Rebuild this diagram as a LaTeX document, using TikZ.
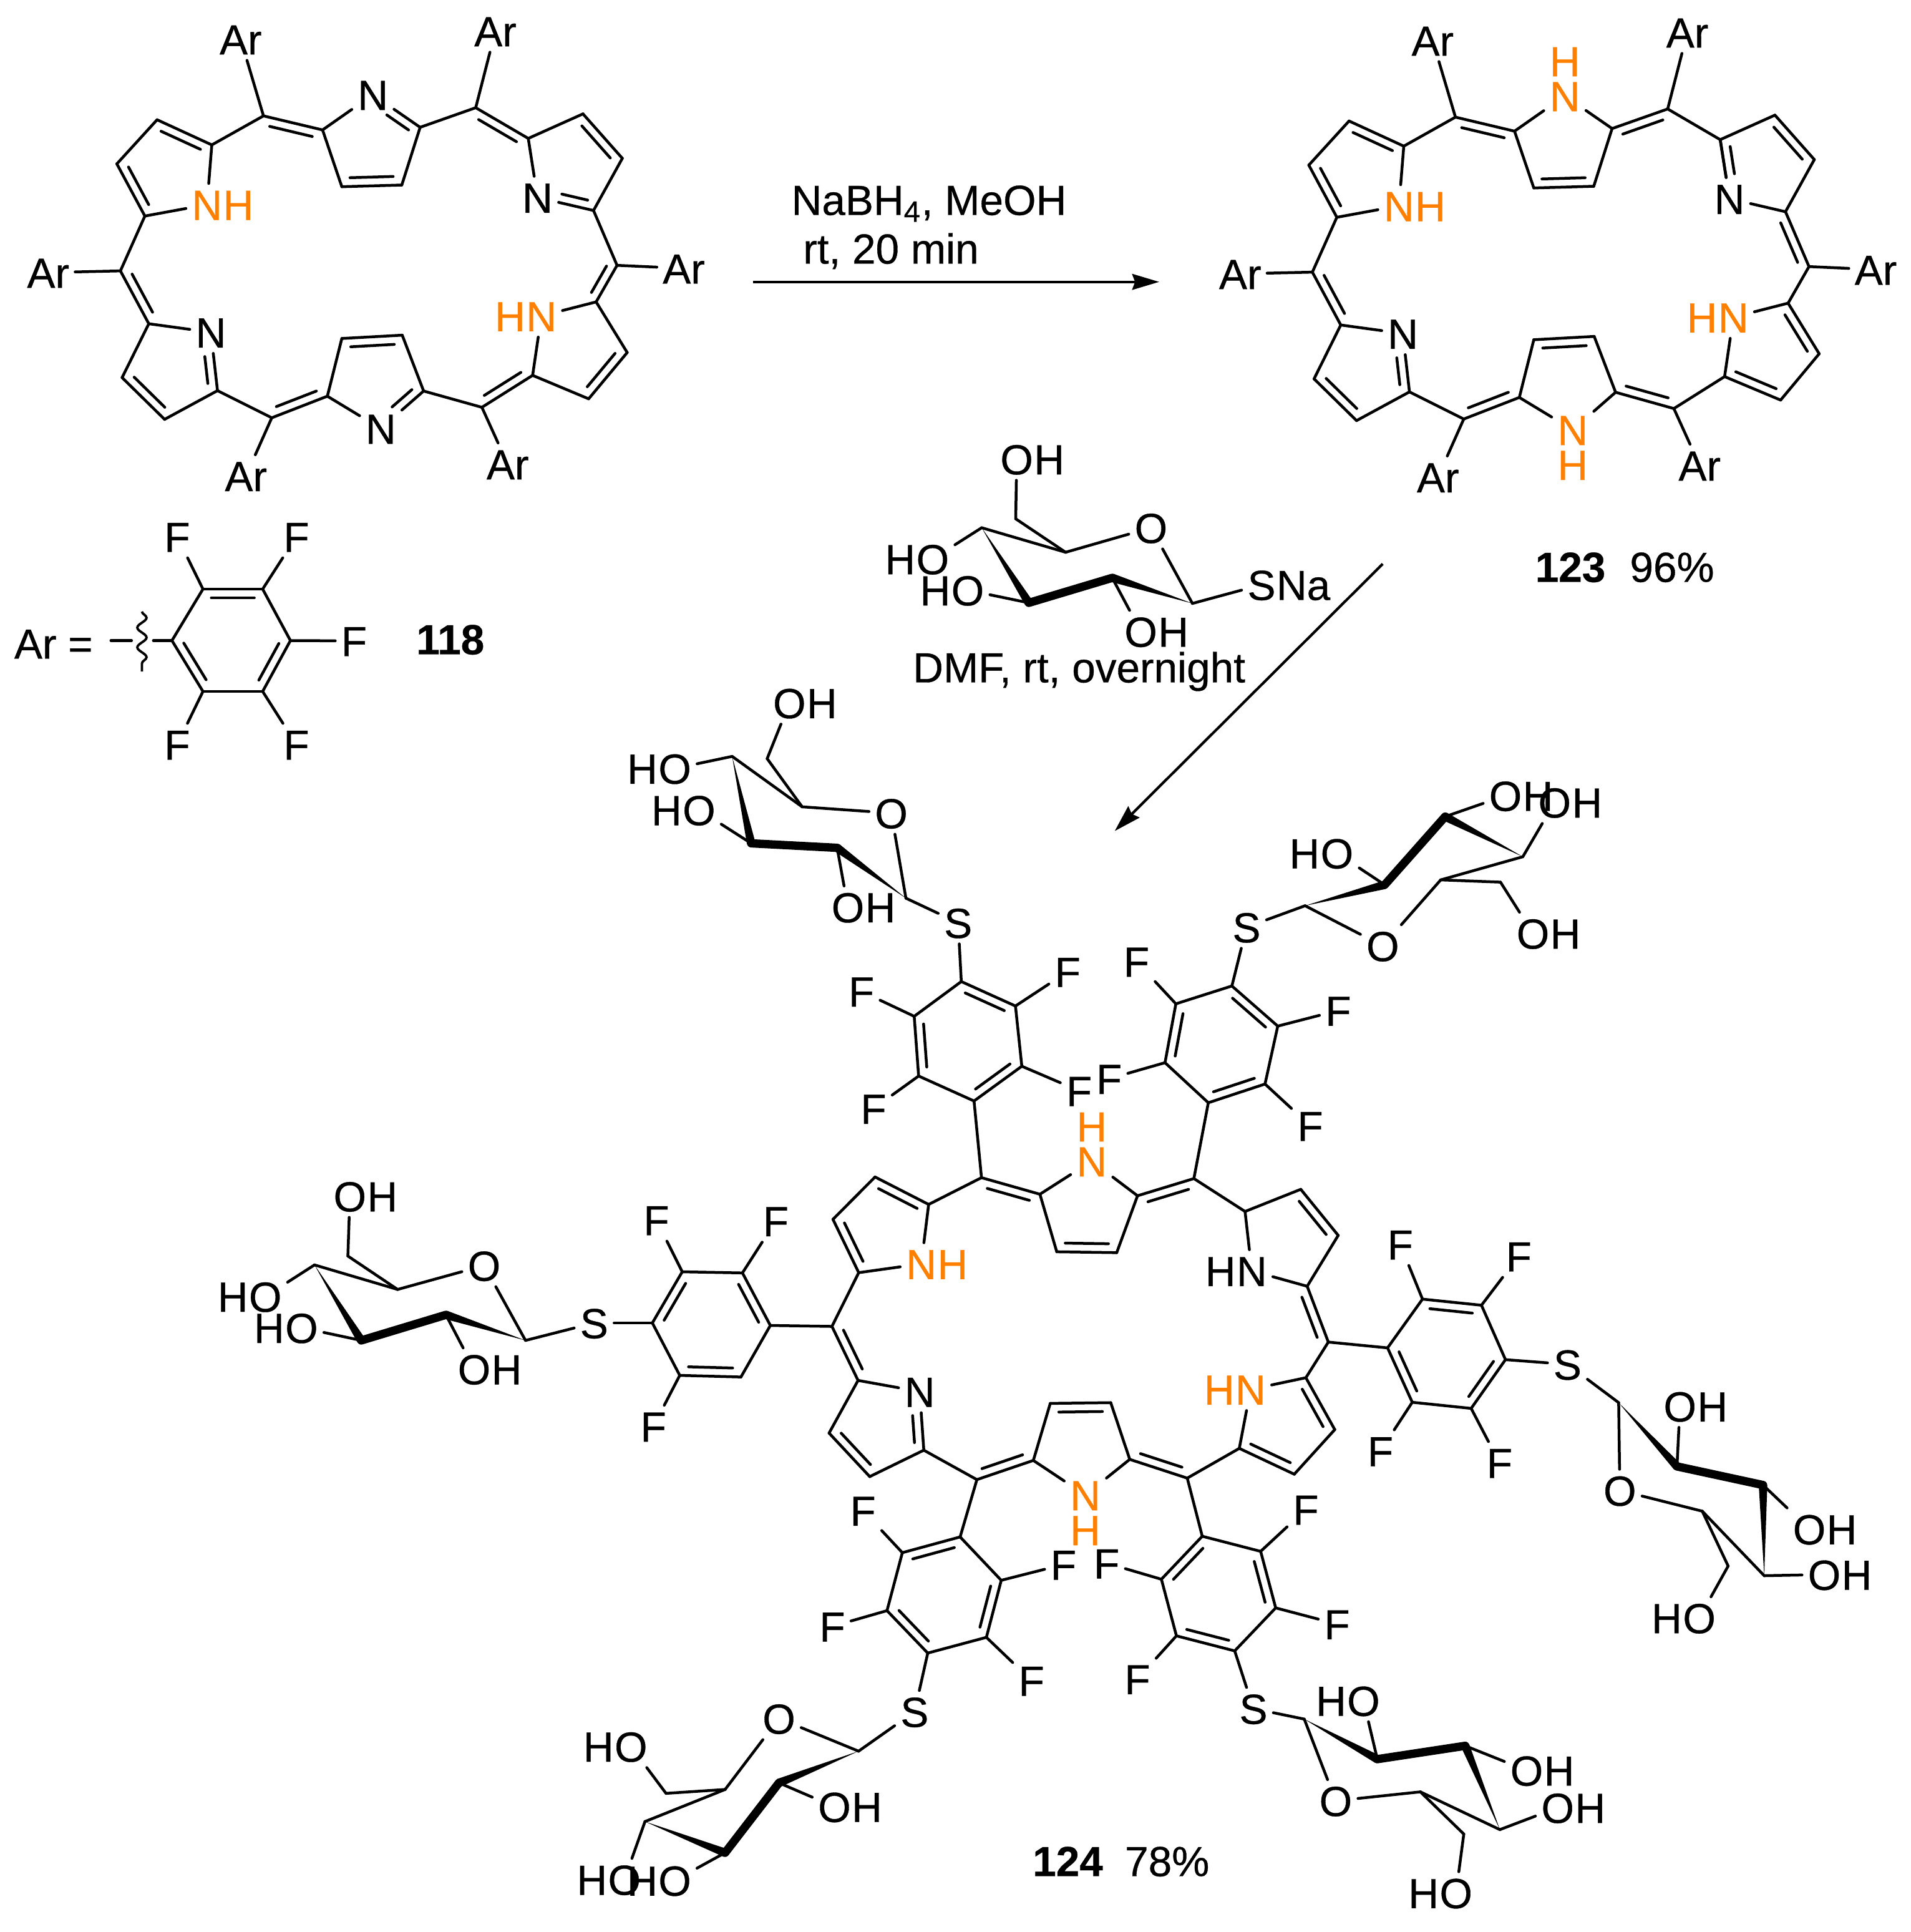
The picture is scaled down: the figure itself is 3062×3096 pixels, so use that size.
\documentclass[tikz,border=0pt]{standalone}
\usepackage{fontspec}
\setmainfont{Liberation Sans}[RawFeature={embolden=0.5}]
\usetikzlibrary{positioning,calc,arrows.meta,decorations.pathmorphing}
\definecolor{nhorange}{RGB}{255,128,0}
\newcommand{\chemfont}{\fontsize{19.2}{23}\selectfont}
\tikzset{
  bond/.style={line width=1.28pt,line cap=round,line join=round},
  boldbond/.style={line width=3.8pt,line cap=round},
  atom/.style={font=\chemfont,inner sep=2.5pt,text height=13.9pt,text depth=0pt},
  atomh/.style={font=\chemfont,inner sep=0pt,text height=13.9pt,text depth=0pt},
  rxnarrow/.style={line width=1.2pt,-{Stealth[length=12.3pt,width=7.2pt,inset=1.3pt]}},
}
% double bond, inner line on the left of the direction of travel
\newcommand{\dbl}[3][90]{\draw[bond] (#2) -- (#3);
  \draw[bond] ($(#2)!.14!(#3)!4pt!#1:(#3)$) -- ($(#2)!.86!(#3)!4pt!#1:(#3)$);}
% the same for a carbon and a nitrogen label
\newcommand{\dbln}[3][90]{\draw[bond] (#2) -- (#3);
  \draw[bond] ($(#2)!.14!(#3)!4pt!#1:(#3)$) -- ($(#2)!.6!(#3)!4pt!#1:(#3)$);}
\newcommand{\wedgebond}[2]{\fill (#1) -- ($(#2)!1.95pt!90:(#1)$) -- ($(#2)!1.95pt!-90:(#1)$) -- cycle;}
\newcommand{\ohR}[2]{\node[atom] (#1) at (#2) {O}; \node[atomh,right=-2.5pt of #1] (#1h) {H};}
\newcommand{\ohL}[2]{\node[atom] (#1) at (#2) {O}; \node[atomh,left=-2.5pt of #1] (#1h) {H};}
\newcommand{\fl}[3]{\node[atom] (#1F#2) at (#3) {F}; \draw[bond] (#1#2) -- (#1F#2);}
% hexagon with the double bonds 1=2, 3=4, 5=6
\newcommand{\arene}[1]{\dbl{#11}{#12}\draw[bond] (#12) -- (#13);
  \dbl{#13}{#14}\draw[bond] (#14) -- (#15);
  \dbl{#15}{#16}\draw[bond] (#16) -- (#11);}
\newcommand{\sugar}[1]{
  \foreach \u/\v in {C1/O,O/C5,C5/C6,C5/C4,C6/O6,C4/O4,C3/O3,C2/O2,C1/S}
    \draw[bond] (#1\u) -- (#1\v);
  \wedgebond{#1C1}{#1C2}
  \draw[boldbond] (#1C2) -- (#1C3);
  \wedgebond{#1C4}{#1C3}}
% skeleton of the macrocycle
\newcommand{\hexapts}[1]{
  \foreach \p/\x/\y in {m1/422.3/185.7,m2/762.5/172.6,m3/989/425.2,m4/772.4/652.7,m5/435.6/669.5,m6/193/434.1,
    a1/517/208.2,b1/547.9/299.2,c1/644/296.5,z1/673.4/204,q1/597.7/151.7,
    a2/846.7/221.8,b2/934.4/182.5,c2/997.5/253.7,z2/951.3/337.3,q2/861.5/316.4,
    a3/955.5/483.8,b3/1005.3/564.9,c3/943.5/639.1,z3/853.7/601.5,q3/867.7/506.3,
    a4/679/626.6,b4/644.7/537.1,c4/547.9/542.4,z4/524.7/634.9,q4/610.3/686.7,
    a5/348.6/626,b5/263.8/672,c5/195.7/605.1,z5/238.5/518.8,q5/338/532.4,
    a6/232.2/346.2,b6/187.3/262.6,c6/251.8/191.9,z6/339.5/232.2,q6/331.8/327.9,
    t1/385.8/62.8,t2/794/49.7,t3/1096/430,t4/813.7/743.7,t5/394.2/762.6,t6/77.2/436.7}
    {\coordinate (#1\p) at (\x,\y);}}
\newcommand{\hexaatoms}[1]{
  \node[atom,text=nhorange] (#1n1) at (#1q1) {N};
  \node[atomh,text=nhorange,above=-.9pt of #1n1] (#1n1h) {H};
  \node[atom,text=nhorange] (#1n3) at (#1q3) {N};
  \node[atomh,text=nhorange,left=-2.5pt of #1n3] (#1n3h) {H};
  \node[atom,text=nhorange] (#1n4) at (#1q4) {N};
  \node[atomh,text=nhorange,below=-.9pt of #1n4] (#1n4h) {H};
  \node[atom] (#1n5) at (#1q5) {N};
  \node[atom,text=nhorange] (#1n6) at (#1q6) {N};
  \node[atomh,text=nhorange,right=-2.5pt of #1n6] (#1n6h) {H};}
\newcommand{\hexabonds}[1]{
  \foreach \u/\v in {a1/n1,z1/n1,a1/b1,c1/z1,m2/a2,a2/b2,c2/z2,z2/n2,a2/n2,m3/a3,a3/n3,z3/n3,b3/c3,z3/m4,
    a4/n4,z4/n4,a4/b4,c4/z4,m5/a5,a5/b5,c5/z5,z5/n5,m6/a6,a6/n6,z6/n6,b6/c6,z6/m1}
    \draw[bond] (#1\u) -- (#1\v);
  \dbl{#1a1}{#1m1}\dbl{#1b1}{#1c1}\dbl{#1m2}{#1z1}\dbl{#1c2}{#1b2}\dbl{#1m3}{#1z2}
  \dbl{#1b3}{#1a3}\dbl{#1z3}{#1c3}\dbl{#1a4}{#1m4}\dbl{#1b4}{#1c4}\dbl{#1m5}{#1z4}
  \dbln{#1a5}{#1n5}\dbl{#1c5}{#1b5}\dbl{#1m6}{#1z5}\dbl{#1b6}{#1a6}\dbl{#1z6}{#1c6}}
\newcommand{\arlabels}[1]{
  \foreach \i in {1,...,6}{\node[atom] (#1ar\i) at (#1t\i) {Ar}; \draw[bond] (#1m\i) -- (#1ar\i);}}

\begin{document}
\begin{tikzpicture}[x=0.01cm,y=-0.01cm]
\useasboundingbox (0,0) rectangle (3062,3096);

% compound 118
\hexapts{P}
\foreach \i in {1,2,4,5}{\node[atom] (Pn\i) at (Pq\i) {N};}
\node[atom,text=nhorange] (Pn3) at (Pq3) {N};
\node[atomh,text=nhorange,left=-2.5pt of Pn3] (Pn3h) {H};
\node[atom,text=nhorange] (Pn6) at (Pq6) {N};
\node[atomh,text=nhorange,right=-2.5pt of Pn6] (Pn6h) {H};
\foreach \u/\v in {z6/m1,a1/n1,a1/b1,c1/z1,z1/m2,a2/n2,a2/b2,c2/z2,z2/m3,a3/n3,a3/b3,c3/z3,z3/n3,m4/a4,a4/b4,
  c4/z4,z4/n4,m5/a5,a5/b5,c5/z5,z5/n5,m6/a6,a6/n6,b6/c6,z6/n6}
  \draw[bond] (P\u) -- (P\v);
\dbl{Pa1}{Pm1}\dbln{Pz1}{Pn1}\dbl{Pb1}{Pc1}\dbl{Pa2}{Pm2}\dbl{Pc2}{Pb2}\dbln[-90]{Pz2}{Pn2}
\dbl{Pa3}{Pm3}\dbl{Pc3}{Pb3}\dbl{Pm4}{Pz3}\dbln[-90]{Pa4}{Pn4}\dbl{Pb4}{Pc4}\dbl{Pm5}{Pz4}
\dbln{Pa5}{Pn5}\dbl{Pc5}{Pb5}\dbl{Pm6}{Pz5}\dbl{Pb6}{Pa6}\dbl{Pz6}{Pc6}
\arlabels{P}

% Ar group
\foreach \p/\x/\y in {1/421/944,2/325.3/944,3/275.6/1026.5,4/325.3/1108,5/421/1108,6/465.5/1026.5}
  {\coordinate (Y\p) at (\x,\y);}
\arene{Y}
\fl{Y}{1}{475,860}
\fl{Y}{2}{284,860}
\fl{Y}{4}{284,1193}
\fl{Y}{5}{475,1193}
\fl{Y}{6}{567.5,1027}
\node[atom] (arlabel) at (85.8,1031) {Ar =};
\node[atom] (cmpa) at (721.8,1024) {\textbf{118}};
\coordinate (stemb) at (245.8,1026.5);
\coordinate (dasha) at (177.8,1026.5);
\coordinate (dashb) at (210.8,1026.5);
\coordinate (wavya) at (227.5,980);
\coordinate (wavyb) at (227.5,1076);
\draw[bond] (Y3) -- (stemb);
\draw[bond] (dasha) -- (dashb);
\draw[line width=1.1pt,decorate,decoration={snake,amplitude=2.1pt,segment length=9pt}] (wavya) -- (wavyb);

% first step
\node[atom] (reagenta) at (1489,320) {NaBH\textsubscript{4}, MeOH};
\node[atom] (reagentb) at (1428,398) {rt, 20 min};
\coordinate (arrowa) at (1207,451.7);
\coordinate (arrowb) at (1858,451.7);
\draw[rxnarrow] (arrowa) -- (arrowb);

% compound 123
\begin{scope}[shift={(1910.5,2)}]
\hexapts{Q}
\end{scope}
\hexaatoms{Q}
\node[atom] (Qn2) at (Qq2) {N};
\hexabonds{Q}
\dbln{Qa2}{Qn2}
\arlabels{Q}
\node[atom] (cmpb) at (2517,908) {\textbf{123}};
\node[atom] (cmpbyield) at (2680,908) {96\%};

% thiosugar reagent
\foreach \p/\x/\y in {C1/1911.2/967,C2/1782.7/926,C3/1649/966,C4/1573.5/845.7,C5/1708/885,C6/1628/831.4}
  {\coordinate (SG\p) at (\x,\y);}
\node[atom] (SGO) at (1844.9,845.7) {O};
\ohR{SGO6}{1629.6,735.7}
\ohL{SGO4}{1494.9,895.7}
\ohL{SGO3}{1551,945.7}
\ohR{SGO2}{1828.6,1012}
\node[atom] (SGS) at (2022,937) {S};
\node[atomh,right=-2.5pt of SGS] (SGSna) {Na};
\sugar{SG}
\node[atom] (reagentc) at (1729.6,1069) {DMF, rt, overnight};
\coordinate (arrowc) at (2216.3,903.6);
\coordinate (arrowd) at (1786.7,1331.7);
\draw[rxnarrow] (arrowc) -- (arrowd);

% compound 124
\begin{scope}[shift={(1159.2,1683.6)},rotate=-2.45]
\hexapts{R}
\end{scope}
\hexaatoms{R}
\node[atom] (Rn2) at (Rq2) {N};
\node[atomh,left=-2.5pt of Rn2] (Rn2h) {H};
\hexabonds{R}
\node[atom] (cmpc) at (1711.5,2982) {\textbf{124}};
\node[atom] (cmpcyield) at (1870.7,2982) {78\%};

% aryl rings of 124
\foreach \p/\x/\y in {1/1627.6/1612.1,2/1540.8/1572.9,3/1465.3/1628.6,4/1472.4/1724.3,5/1561.2/1764.3,6/1637.8/1708.6}
  {\coordinate (XA\p) at (\x,\y);}
\arene{XA}
\fl{XA}{1}{1711.2,1557.1}
\fl{XA}{3}{1380.6,1588.6}
\fl{XA}{4}{1400,1776.4}
\fl{XA}{6}{1729.6,1747.9}
\draw[bond] (Rm1) -- (XA5);

\foreach \p/\x/\y in {1/2048/1644.3,2/1974.5/1580,3/1884.7/1608.6,4/1867.3/1702.9,5/1936.7/1767.1,6/2027.6/1737.1}
  {\coordinate (XB\p) at (\x,\y);}
\arene{XB}
\fl{XB}{1}{2144.9,1619.3}
\fl{XB}{3}{1821.4,1540.7}
\fl{XB}{4}{1777.6,1728.6}
\fl{XB}{6}{2100,1804}
\draw[bond] (Rm2) -- (XB5);

\foreach \p/\x/\y in {1/1093.5/2038,2/1045.6/2120,3/1089.5/2204,4/1187.6/2206.6,5/1234.7/2124,6/1190/2039.8}
  {\coordinate (XC\p) at (\x,\y);}
\arene{XC}
\fl{XC}{1}{1052,1955}
\fl{XC}{3}{1047.2,2285.7}
\fl{XC}{6}{1243.4,1956.6}
\draw[bond] (Rm6) -- (XC5);

\foreach \p/\x/\y in {1/2374.5/2091.6,2/2280/2081.8,3/2224/2159.9,4/2263.6/2247.1,5/2358/2256.9,6/2413/2178.8}
  {\coordinate (XD\p) at (\x,\y);}
\arene{XD}
\fl{XD}{1}{2434.3,2013}
\fl{XD}{2}{2244.3,1994}
\fl{XD}{4}{2212.5,2325.2}
\fl{XD}{5}{2403.4,2344}
\draw[bond] (Rm3) -- (XD3);

\foreach \p/\x/\y in {1/1538.9/2462.9,2/1446.3/2488.1,3/1421.7/2581,4/1487/2649,5/1581/2623.8,6/1604.8/2532.4}
  {\coordinate (XE\p) at (\x,\y);}
\arene{XE}
\fl{XE}{2}{1383.1,2420.5}
\fl{XE}{3}{1334,2606.2}
\fl{XE}{5}{1653.2,2692.9}
\fl{XE}{6}{1704.4,2507.1}
\draw[bond] (Rm5) -- (XE1);

\foreach \p/\x/\y in {1/1927/2461.8,2/1861.5/2530.7,3/1885.6/2621.4,4/1979/2645.5,5/2044.7/2576.6,6/2020.6/2486}
  {\coordinate (XF\p) at (\x,\y);}
\arene{XF}
\fl{XF}{2}{1773.7,2504.9}
\fl{XF}{3}{1823,2690.5}
\fl{XF}{5}{2143,2602.5}
\fl{XF}{6}{2093,2418.8}
\draw[bond] (Rm4) -- (XF1);

% sugars of 124
\foreach \p/\x/\y in {C1/1452/1439.3,C2/1341.8/1358.6,C3/1204/1351.4,C4/1173.5/1212.1,C5/1285.7/1292.9,C6/1229.6/1215.7}
  {\coordinate (SA\p) at (\x,\y);}
\node[atom] (SAO) at (1428.6,1302.9) {O};
\ohR{SAO6}{1265.3,1126.4}
\ohL{SAO4}{1081.6,1231.4}
\ohL{SAO3}{1120.4,1297.9}
\ohR{SAO2}{1359,1453.6}
\node[atom] (SAS) at (1535.7,1478.6) {S};
\sugar{SA}
\draw[bond] (SAS) -- (XA2);

\foreach \p/\x/\y in {C1/2091.8/1451.4,C2/2219.4/1417.9,C3/2316.3/1308.6,C4/2440.8/1372.9,C5/2309.2/1410,C6/2405/1413.6}
  {\coordinate (SB\p) at (\x,\y);}
\node[atom] (SBO) at (2216.3,1515.7) {O};
\ohR{SBO6}{2457,1495.7}
\ohR{SBO4}{2491.8,1285.7}
\ohR{SBO3}{2413,1275}
\ohL{SBO2}{2142.9,1367.1}
\node[atom] (SBS) at (1998,1485.7) {S};
\sugar{SB}
\draw[bond] (SBS) -- (XB2);

\foreach \p/\x/\y in {C1/842.3/2148,C2/714.7/2107,C3/579/2148,C4/504.1/2027,C5/637.3/2066.3,C6/557.6/2012.8}
  {\coordinate (SC\p) at (\x,\y);}
\node[atom] (SCO) at (776,2028) {O};
\ohR{SCO6}{560.8,1916.8}
\ohL{SCO4}{425.2,2077.6}
\ohL{SCO3}{483.4,2127.6}
\ohR{SCO2}{760,2193.9}
\node[atom] (SCS) at (952.3,2120) {S};
\sugar{SC}
\draw[bond] (SCS) -- (XC2);

\foreach \p/\x/\y in {C1/2594.4/2247.7,C2/2687.9/2349.9,C3/2825.8/2379.7,C4/2827.7/2525,C5/2728.4/2421.6,C6/2769.9/2509.5}
  {\coordinate (SD\p) at (\x,\y);}
\node[atom] (SDO) at (2596.3,2388.4) {O};
\ohL{SDO6}{2723.6,2592.7}
\ohR{SDO4}{2924,2523.2}
\ohR{SDO3}{2900,2450.3}
\ohR{SDO2}{2692.7,2253.4}
\node[atom] (SDS) at (2512.4,2186.3) {S};
\sugar{SD}
\draw[bond] (SDS) -- (XD6);

\foreach \p/\x/\y in {C1/1376.1/2806.2,C2/1248.5/2857,C3/1162.2/2969,C4/1033.8/2919,C5/1162.2/2867.6,C6/1067.5/2873.8}
  {\coordinate (SE\p) at (\x,\y);}
\node[atom] (SEO) at (1248.5,2753.8) {O};
\ohL{SEO6}{1011.3,2798.6}
\ohL{SEO4}{1000.8,3011.9}
\ohL{SEO3}{1081.5,3013.3}
\ohR{SEO2}{1337.5,2895.2}
\node[atom] (SES) at (1465.9,2742.9) {S};
\sugar{SE}
\draw[bond] (SES) -- (XE4);

\foreach \p/\x/\y in {C1/2090.5/2754.8,C2/2207.6/2819,C3/2348.5/2797.6,C4/2404/2931.9,C5/2276.6/2871.4,C6/2346.2/2939}
  {\coordinate (SF\p) at (\x,\y);}
\node[atom] (SFO) at (2140.9,2885.7) {O};
\ohL{SFO6}{2333.7,3033.3}
\ohR{SFO4}{2496.7,2896.7}
\ohR{SFO3}{2447,2837}
\ohL{SFO2}{2185.4,2725.2}
\node[atom] (SFS) at (2009,2738) {S};
\sugar{SF}
\draw[bond] (SFS) -- (XF4);
\end{tikzpicture}
\end{document}
